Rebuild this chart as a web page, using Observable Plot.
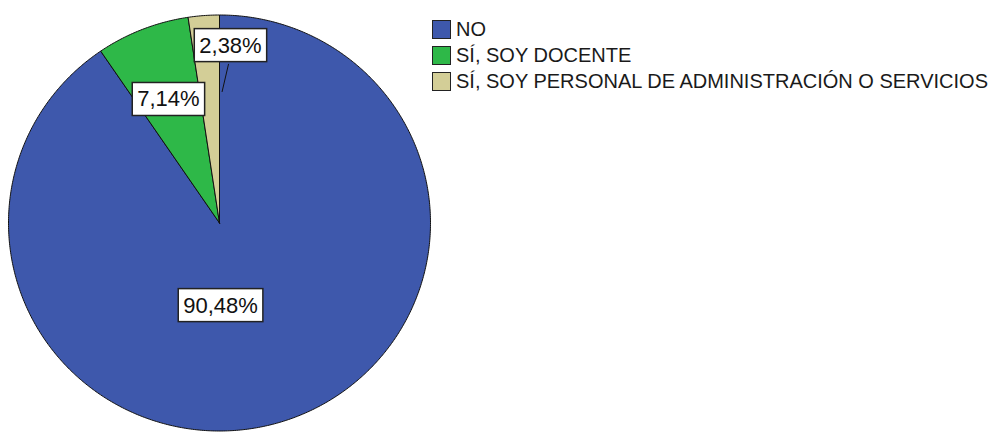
<!DOCTYPE html>
<html><head><meta charset="utf-8">
<script src="https://cdn.jsdelivr.net/npm/d3@7"></script>
<script src="https://cdn.jsdelivr.net/npm/@observablehq/plot@0.6"></script>
<style>
body{margin:0;background:#fff;}
#wrap{position:relative;width:1000px;height:432px;overflow:hidden;}
#legend{position:absolute;left:432px;top:16px;font-family:"Liberation Sans",Arial,sans-serif;font-size:20px;color:#1a1a1a;}
.row{display:flex;align-items:center;height:26px;white-space:nowrap;}
.sw{width:19px;height:19px;border:1.5px solid #222;box-sizing:border-box;margin-right:5px;flex:none;}
</style></head><body>
<div id="wrap"><div id="chart"></div><div id="legend"></div></div>
<script>
// ---- data ----
const categories = ["NO", "SÍ, SOY DOCENTE", "SÍ, SOY PERSONAL DE ADMINISTRACIÓN O SERVICIOS"];
const percents = [90.48, 7.14, 2.38];
const percentLabels = ["90,48%", "7,14%", "2,38%"];

// ---- styles ----
const colors = ["#3E58AC", "#2EB848", "#D3CE97"];

// slice polygons from the values (clockwise from 12 o'clock)
const total = d3.sum(percents);
const slices = [];
let acc = 0;
categories.forEach((c, i) => {
  const a0 = acc / total * 2 * Math.PI;
  acc += percents[i];
  const a1 = acc / total * 2 * Math.PI;
  slices.push({cat: c, x: 0, y: 0});
  const n = Math.max(2, Math.ceil((a1 - a0) / (Math.PI / 360)));
  for (let k = 0; k <= n; k++) {
    const a = a0 + (a1 - a0) * k / n;
    slices.push({cat: c, x: Math.sin(a), y: Math.cos(a)});
  }
  slices.push({cat: c, x: 0, y: 0});
});

// label placement (layout, in unit-circle coordinates)
const labelPlace = [[0.005, -0.397], [-0.242, 0.594], [0.052, 0.853]];
const labelData = percentLabels.map((t, i) => ({t, x: labelPlace[i][0], y: labelPlace[i][1]}));
// leader line for the smallest slice
const endAngle = 2 * Math.PI;
const leader = [{x1: 0.043, y1: 0.765, x2: Math.sin(endAngle) * 0.63 + 0.012, y2: Math.cos(endAngle) * 0.63}];

const chart = Plot.plot({
  width: 1000,
  height: 432,
  margin: 0,
  x: {domain: [-1, 1], range: [8, 430], axis: null},
  y: {domain: [-1, 1], range: [430.5, 14.5], axis: null},
  color: {domain: categories, range: colors},
  style: {background: "white"},
  marks: [
    Plot.line(slices, {x: "x", y: "y", z: "cat", fill: "cat", stroke: "#111", strokeWidth: 1, curve: "linear"}),
    Plot.link(leader, {x1: "x1", y1: "y1", x2: "x2", y2: "y2", stroke: "#111", strokeWidth: 1}),
    Plot.text(labelData, {x: "x", y: "y", text: "t", fontSize: 22, fill: "#111", fontFamily: "Liberation Sans, Arial, sans-serif"})
  ]
});
document.getElementById("chart").appendChild(chart);

// white boxes behind the labels
chart.querySelectorAll("text").forEach(t => {
  const b = t.getBBox();
  const r = document.createElementNS("http://www.w3.org/2000/svg", "rect");
  r.setAttribute("x", b.x - 5);
  r.setAttribute("y", b.y - 4);
  r.setAttribute("width", b.width + 10);
  r.setAttribute("height", b.height + 8);
  r.setAttribute("fill", "white");
  r.setAttribute("stroke", "#222");
  r.setAttribute("stroke-width", 1.5);
  const tr = t.getAttribute("transform");
  if (tr) r.setAttribute("transform", tr);
  t.parentNode.insertBefore(r, t);
});

// legend
const lg = document.getElementById("legend");
categories.forEach((c, i) => {
  const row = document.createElement("div");
  row.className = "row";
  const sw = document.createElement("div");
  sw.className = "sw";
  sw.style.background = colors[i];
  const tx = document.createElement("span");
  tx.textContent = c;
  row.appendChild(sw);
  row.appendChild(tx);
  lg.appendChild(row);
});
</script>
</body></html>
